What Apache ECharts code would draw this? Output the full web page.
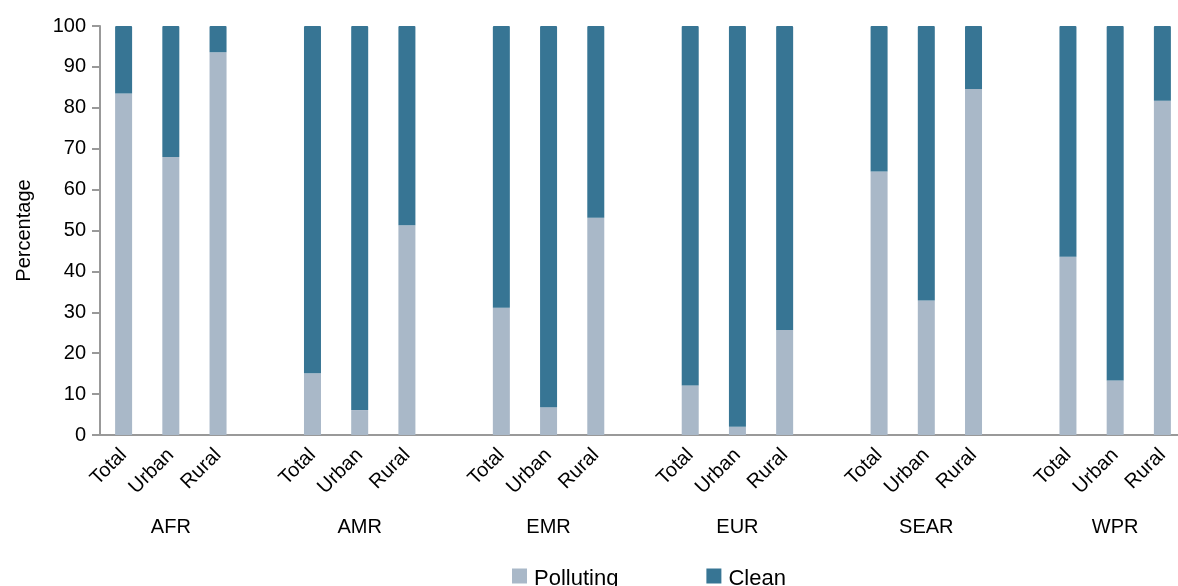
<!DOCTYPE html>
<html>
<head>
<meta charset="utf-8">
<script src="https://cdn.jsdelivr.net/npm/echarts@6/dist/echarts.min.js"></script>
<style>
html,body{margin:0;padding:0;background:#fff;}
#chart{width:1178px;height:586px;}
</style>
</head>
<body>
<div id="chart"></div>
<script>
// ---- data ----
const groups = ['AFR', 'AMR', 'EMR', 'EUR', 'SEAR', 'WPR'];
const settings = ['Total', 'Urban', 'Rural'];
// Polluting share per group: [Total, Urban, Rural]
const pollutingAFR = [83.5, 68.0, 93.6];
const pollutingAMR = [15.1, 6.1, 51.3];
const pollutingEMR = [31.1, 6.8, 53.1];
const pollutingEUR = [12.1, 2.0, 25.7];
const pollutingSEAR = [64.4, 32.9, 84.6];
const pollutingWPR = [43.6, 13.3, 81.7];
// Clean share per group: [Total, Urban, Rural]
const cleanAFR = [16.5, 32.0, 6.4];
const cleanAMR = [84.9, 93.9, 48.7];
const cleanEMR = [68.9, 93.2, 46.9];
const cleanEUR = [87.9, 98.0, 74.3];
const cleanSEAR = [35.6, 67.1, 15.4];
const cleanWPR = [56.4, 86.7, 18.3];
const yTicks = [0, 10, 20, 30, 40, 50, 60, 70, 80, 90, 100];

const pollutingByGroup = [pollutingAFR, pollutingAMR, pollutingEMR, pollutingEUR, pollutingSEAR, pollutingWPR];
const cleanByGroup = [cleanAFR, cleanAMR, cleanEMR, cleanEUR, cleanSEAR, cleanWPR];

// ---- build category slots (a blank slot separates groups) ----
const cats = [], groupCats = [], pollData = [], cleanData = [];
groups.forEach((g, gi) => {
  settings.forEach((s, si) => {
    cats.push(s);
    groupCats.push(si === 1 ? g : '');
    pollData.push(pollutingByGroup[gi][si]);
    cleanData.push(cleanByGroup[gi][si]);
  });
  if (gi < groups.length - 1) {
    cats.push('');
    groupCats.push('');
    pollData.push('-');
    cleanData.push('-');
  }
});

const FONT = 'Liberation Sans, Arial, Helvetica, sans-serif';
const chart = echarts.init(document.getElementById('chart'), null, {renderer: 'canvas'});
chart.setOption({
  animation: false,
  textStyle: {fontFamily: FONT},
  grid: {left: 100, top: 26, height: 409, width: 1086, containLabel: false, outerBoundsMode: 'none'},
  legend: {
    data: ['Polluting', 'Clean'],
    left: 512, top: 568,
    padding: 0,
    itemWidth: 15, itemHeight: 15, itemGap: 88,
    icon: 'rect',
    formatter: name => '{t|' + name + '}',
    textStyle: {fontSize: 22, color: '#000', fontFamily: FONT,
      rich: {t: {fontSize: 22, color: '#000', fontFamily: FONT, padding: [6, 0, 0, 2]}}}
  },
  xAxis: [{
    type: 'category',
    data: cats,
    boundaryGap: true,
    axisLine: {show: true, lineStyle: {color: '#999', width: 2}},
    axisTick: {show: false},
    axisLabel: {interval: 0, rotate: 45, margin: 17, fontSize: 20, color: '#000', fontFamily: FONT}
  }, {
    type: 'category',
    data: groupCats,
    position: 'bottom',
    offset: 73,
    boundaryGap: true,
    axisLine: {show: false},
    axisTick: {show: false},
    axisLabel: {interval: 0, margin: 9, fontSize: 20, color: '#000', fontFamily: FONT}
  }],
  yAxis: {
    type: 'value',
    min: 0, max: 100, interval: 10,
    name: 'Percentage',
    nameLocation: 'middle',
    nameGap: 66,
    nameTextStyle: {fontSize: 20, color: '#000', fontFamily: FONT},
    axisLine: {show: true, lineStyle: {color: '#999', width: 2}},
    axisTick: {show: true, length: 8, lineStyle: {color: '#999', width: 2}},
    axisLabel: {margin: 14, fontSize: 20, color: '#000', fontFamily: FONT,
      formatter: v => yTicks.includes(v) ? String(v) : ''},
    splitLine: {show: false}
  },
  series: [{
    name: 'Polluting',
    type: 'bar',
    stack: 'share',
    barWidth: 17,
    xAxisIndex: 0,
    data: pollData,
    itemStyle: {color: '#a9b8c8'}
  }, {
    name: 'Clean',
    type: 'bar',
    stack: 'share',
    barWidth: 17,
    xAxisIndex: 0,
    data: cleanData,
    itemStyle: {color: '#377594', borderRadius: [1, 1, 0, 0]}
  }]
});
</script>
</body>
</html>
